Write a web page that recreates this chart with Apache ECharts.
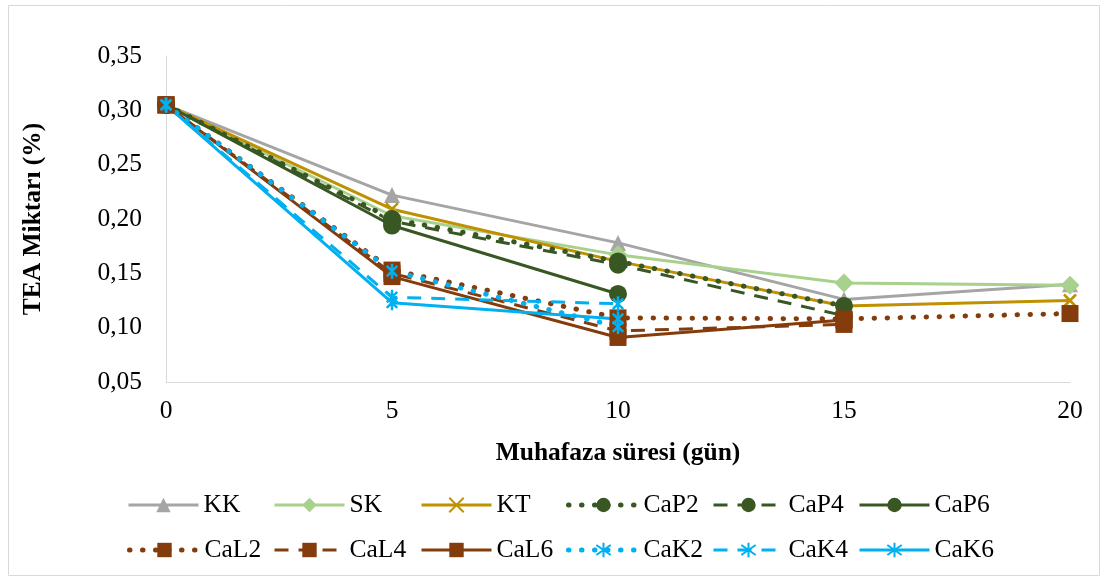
<!DOCTYPE html>
<html>
<head>
<meta charset="utf-8">
<script src="https://cdn.jsdelivr.net/npm/echarts@6/dist/echarts.min.js"></script>
<style>html,body{margin:0;padding:0;background:#fff}#c{width:1105px;height:581px}</style>
</head>
<body>
<div id="c"></div>
<script>
const days = [0, 5, 10, 15, 20];
const yTicks = ['0,05','0,10','0,15','0,20','0,25','0,30','0,35'];
const names = ['KK','SK','KT','CaP2','CaP4','CaP6','CaL2','CaL4','CaL6','CaK2','CaK4','CaK6'];
const KK   = [0.305, 0.222, 0.178, 0.126, 0.140];
const SK   = [0.305, 0.203, 0.167, 0.141, 0.139];
const KT   = [0.305, 0.209, 0.161, 0.120, 0.125];
const CaP2 = [0.305, 0.200, 0.161, 0.120, null];
const CaP4 = [0.305, 0.198, 0.158, 0.111, null];
const CaP6 = [0.305, 0.194, 0.131, null, null];
const CaL2 = [0.305, 0.153, 0.109, 0.108, 0.113];
const CaL4 = [0.305, 0.150, 0.097, 0.103, null];
const CaL6 = [0.305, 0.147, 0.091, 0.107, null];
const CaK2 = [0.305, 0.152, 0.101, null, null];
const CaK4 = [0.305, 0.128, 0.122, null, null];
const CaK6 = [0.305, 0.123, 0.108, null, null];

const values = {KK, SK, KT, CaP2, CaP4, CaP6, CaL2, CaL4, CaL6, CaK2, CaK4, CaK6};

const FONT = '"Liberation Serif", "Times New Roman", serif';
const FS = 25.5;
const GRAY = '#A5A5A5', LGREEN = '#A9D18E', GOLD = '#BF9000', DGREEN = '#385723', BROWN = '#843C0C', BLUE = '#00B0F0';
const XPATH = 'path://M0,0L10,10M10,0L0,10';
const STAR = 'path://M1.5,1.5L8.5,8.5M8.5,1.5L1.5,8.5M5,0L5,10';

const DOT = {type: [0.5, 12.5], width: 5, cap: 'round'};
const DASH = {type: [14, 10], width: 3, cap: 'butt'};
const SOLID = {type: 'solid', width: 3};

const styles = {
  KK:   {color: GRAY,   line: SOLID, symbol: 'triangle', size: 16},
  SK:   {color: LGREEN, line: SOLID, symbol: 'diamond', size: 19},
  KT:   {color: GOLD,   line: SOLID, symbol: XPATH, size: 12, stroke: true},
  CaP2: {color: DGREEN, line: DOT,   symbol: 'circle', size: 18},
  CaP4: {color: DGREEN, line: DASH,  symbol: 'circle', size: 18},
  CaP6: {color: DGREEN, line: SOLID, symbol: 'circle', size: 18},
  CaL2: {color: BROWN,  line: DOT,   symbol: 'rect', size: 17},
  CaL4: {color: BROWN,  line: DASH,  symbol: 'rect', size: 17},
  CaL6: {color: BROWN,  line: SOLID, symbol: 'rect', size: 17},
  CaK2: {color: BLUE,   line: DOT,   symbol: STAR, size: 15, stroke: true},
  CaK4: {color: BLUE,   line: DASH,  symbol: STAR, size: 15, stroke: true},
  CaK6: {color: BLUE,   line: SOLID, symbol: STAR, size: 15, stroke: true}
};

const series = names.map(n => {
  const s = styles[n];
  const data = [];
  values[n].forEach((v, i) => { if (v !== null) data.push([days[i], v]); });
  return {
    name: n, type: 'line', data: data,
    symbol: s.symbol, symbolSize: s.size, symbolKeepAspect: true,
    showAllSymbol: true,
    lineStyle: Object.assign({color: s.color}, s.line),
    itemStyle: s.stroke ? {color: s.color, borderColor: s.color, borderWidth: 2.5} : {color: s.color, borderWidth: 0},
    emphasis: {disabled: true},
    animation: false
  };
});

const legendLeft = [127, 273, 420, 566, 712, 858];
const legendTop = [492, 537];
const legends = names.map((n, i) => ({
  data: [n],
  left: legendLeft[i % 6],
  top: legendTop[Math.floor(i / 6)],
  padding: 0,
  itemWidth: 70, itemHeight: 18, itemGap: 6,
  lineStyle: {width: 'inherit', type: 'inherit'},
  textStyle: {fontFamily: FONT, fontSize: FS, color: '#000'},
  selectedMode: false
}));

const chart = echarts.init(document.getElementById('c'));
chart.setOption({
  backgroundColor: '#fff',
  animation: false,
  graphic: [{type: 'rect', shape: {x: 8.5, y: 5.5, width: 1091, height: 570}, style: {fill: 'none', stroke: '#D9D9D9', lineWidth: 1}, silent: true}],
  grid: {left: 166, right: 35, top: 56, bottom: 199},
  legend: legends,
  xAxis: {
    type: 'value', min: 0, max: 20, interval: 5,
    name: 'Muhafaza süresi (gün)', nameLocation: 'middle', nameGap: 58,
    nameTextStyle: {fontFamily: FONT, fontSize: FS, fontWeight: 'bold', color: '#000'},
    axisLine: {show: true, lineStyle: {color: '#D9D9D9', width: 1}},
    axisTick: {show: false},
    splitLine: {show: false},
    axisLabel: {fontFamily: FONT, fontSize: FS, color: '#000', margin: 16}
  },
  yAxis: {
    type: 'value', min: 0.05, max: 0.35, interval: 0.05,
    name: 'TEA Miktarı (%)', nameLocation: 'middle', nameGap: 120,
    nameTextStyle: {fontFamily: FONT, fontSize: FS, fontWeight: 'bold', color: '#000'},
    axisLine: {show: true, lineStyle: {color: '#D9D9D9', width: 1}},
    axisTick: {show: false},
    splitLine: {show: false},
    axisLabel: {fontFamily: FONT, fontSize: FS, color: '#000', margin: 24,
      formatter: v => yTicks[Math.round((v - 0.05) / 0.05)]}
  },
  series: series
});
</script>
</body>
</html>
